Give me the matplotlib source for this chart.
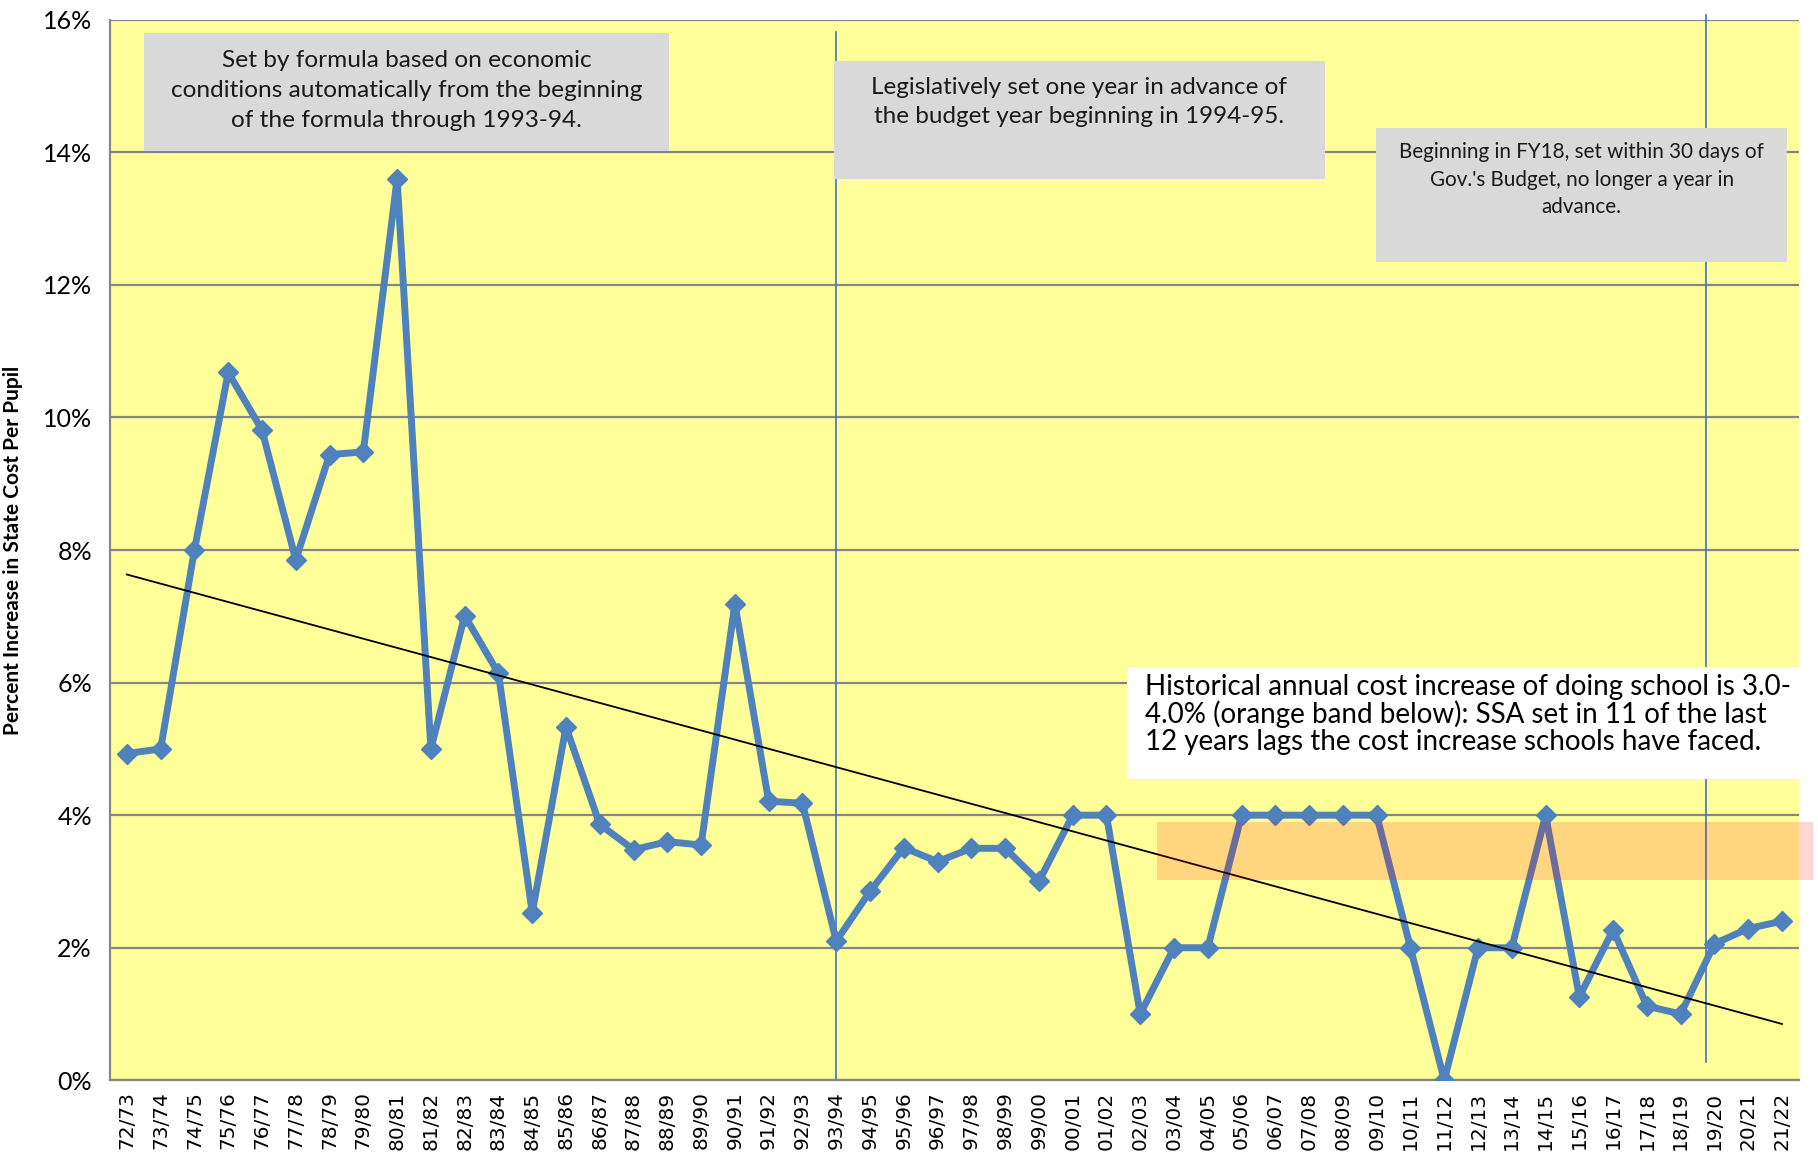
import matplotlib

matplotlib.use("Agg")
import matplotlib.pyplot as plt
import numpy as np
from matplotlib.patches import Rectangle
from matplotlib.ticker import FuncFormatter

YEARS = [
    "72/73", "73/74", "74/75", "75/76", "76/77", "77/78", "78/79", "79/80", "80/81", "81/82",
    "82/83", "83/84", "84/85", "85/86", "86/87", "87/88", "88/89", "89/90", "90/91", "91/92",
    "92/93", "93/94", "94/95", "95/96", "96/97", "97/98", "98/99", "99/00", "00/01", "01/02",
    "02/03", "03/04", "04/05", "05/06", "06/07", "07/08", "08/09", "09/10", "10/11", "11/12",
    "12/13", "13/14", "14/15", "15/16", "16/17", "17/18", "18/19", "19/20", "20/21", "21/22",
]
PCT_INCREASE = [
    4.93, 5.0, 8.0, 10.68, 9.81, 7.85, 9.44, 9.48, 13.6, 5.0,
    7.01, 6.14, 2.53, 5.33, 3.86, 3.48, 3.6, 3.55, 7.19, 4.21,
    4.18, 2.1, 2.85, 3.51, 3.3, 3.5, 3.5, 3.0, 4.0, 4.0,
    1.0, 2.0, 2.0, 4.0, 4.0, 4.0, 4.0, 4.0, 2.0, 0.0,
    2.0, 2.0, 4.0, 1.26, 2.27, 1.12, 1.0, 2.06, 2.29, 2.4,
]
COST_BAND = (3.02, 3.9)
Y_TICKS = [0, 2, 4, 6, 8, 10, 12, 14, 16]

BOX1 = "Set by formula based on economic\nconditions automatically from the beginning\nof the formula through 1993-94."
BOX2 = "Legislatively set one year in advance of\nthe budget year beginning in 1994-95."
BOX3 = "Beginning in FY18, set within 30 days of\nGov.'s Budget, no longer a year in\nadvance."
BOX4 = ("Historical annual cost increase of doing school is 3.0-\n"
        "4.0% (orange band below): SSA set in 11 of the last\n"
        "12 years lags the cost increase schools have faced.")

x = np.arange(len(YEARS))
y = np.array(PCT_INCREASE)

fig = plt.figure(figsize=(18.18, 11.62), dpi=100)
fig.patch.set_facecolor("white")
ax = fig.add_axes([0.0605, 0.0703, 0.9290, 0.9127])
ax.set_facecolor("#ffff99")

ax.set_xlim(-0.5, len(YEARS) - 0.5)
ax.set_ylim(0, 16)
ax.set_yticks(Y_TICKS)
ax.yaxis.set_major_formatter(FuncFormatter(lambda v, _: f"{v:.0f}%"))
ax.grid(axis="y", color="#868686", linewidth=1.6, zorder=1)
ax.set_axisbelow(True)
for side in ["top", "right"]:
    ax.spines[side].set_visible(False)
for side in ["left", "bottom"]:
    ax.spines[side].set_color("#868686")
    ax.spines[side].set_linewidth(1.6)

ax.set_xticks(x)
ax.set_xticklabels(YEARS, rotation=90, family="DejaVu Sans", fontsize=14.5)
ax.tick_params(axis="x", length=0, pad=8)
ax.tick_params(axis="y", length=0, pad=13, labelsize=18)
for lbl in ax.get_yticklabels():
    lbl.set_family("Lato")
ax.set_ylabel("Percent Increase in State Cost Per Pupil", family="Lato",
              fontweight="bold", fontsize=15, labelpad=14)

# period separators
ax.plot([21, 21], [0, 15.81], color="#4472c4", linewidth=1.2, zorder=2)
ax.plot([46.75, 46.75], [0.28, 16.07], color="#4472c4", linewidth=1.2, zorder=2, clip_on=False)

ax.plot(x, y, color="#4f81bd", linewidth=5, marker="D", markersize=10, zorder=3)

# linear trend
slope, intercept = np.polyfit(x, y, 1)
ax.plot(x, slope * x + intercept, color="black", linewidth=1.3, zorder=4)

ax.add_patch(Rectangle((30.5, COST_BAND[0]), 49.93 - 30.5, COST_BAND[1] - COST_BAND[0],
                       facecolor="#ff1000", alpha=0.17, edgecolor="none", zorder=5, clip_on=False))

text_font = "Lato"
ax.add_patch(Rectangle((0.51, 14.02), 16.06 - 0.51, 15.80 - 14.02, facecolor="#d9d9d9",
                       edgecolor="none", zorder=6))
ax.text(8.29, 14.93, BOX1, ha="center", va="center", fontsize=17.6, family=text_font,
        linespacing=1.54, color="#1a1a1a", zorder=7)

ax.add_patch(Rectangle((20.93, 13.60), 35.48 - 20.93, 15.38 - 13.60, facecolor="#d9d9d9",
                       edgecolor="none", zorder=6))
ax.text(28.2, 14.76, BOX2, ha="center", va="center", fontsize=17.5, family=text_font,
        linespacing=1.52, color="#1a1a1a", zorder=7)

ax.add_patch(Rectangle((36.99, 12.34), 49.14 - 36.99, 14.37 - 12.34, facecolor="#d9d9d9",
                       edgecolor="none", zorder=6))
ax.text(43.07, 13.59, BOX3, ha="center", va="center", fontsize=14.9, family=text_font,
        linespacing=1.49, color="#1a1a1a", zorder=7)

ax.add_patch(Rectangle((29.62, 4.55), 49.93 - 29.62, 6.24 - 4.55, facecolor="white",
                       edgecolor="none", zorder=6, clip_on=False))
ax.text(30.13, 5.52, BOX4, ha="left", va="center", fontsize=20, family=text_font,
        linespacing=1.04, color="black", zorder=7)

fig.savefig("out.png", dpi=100)
